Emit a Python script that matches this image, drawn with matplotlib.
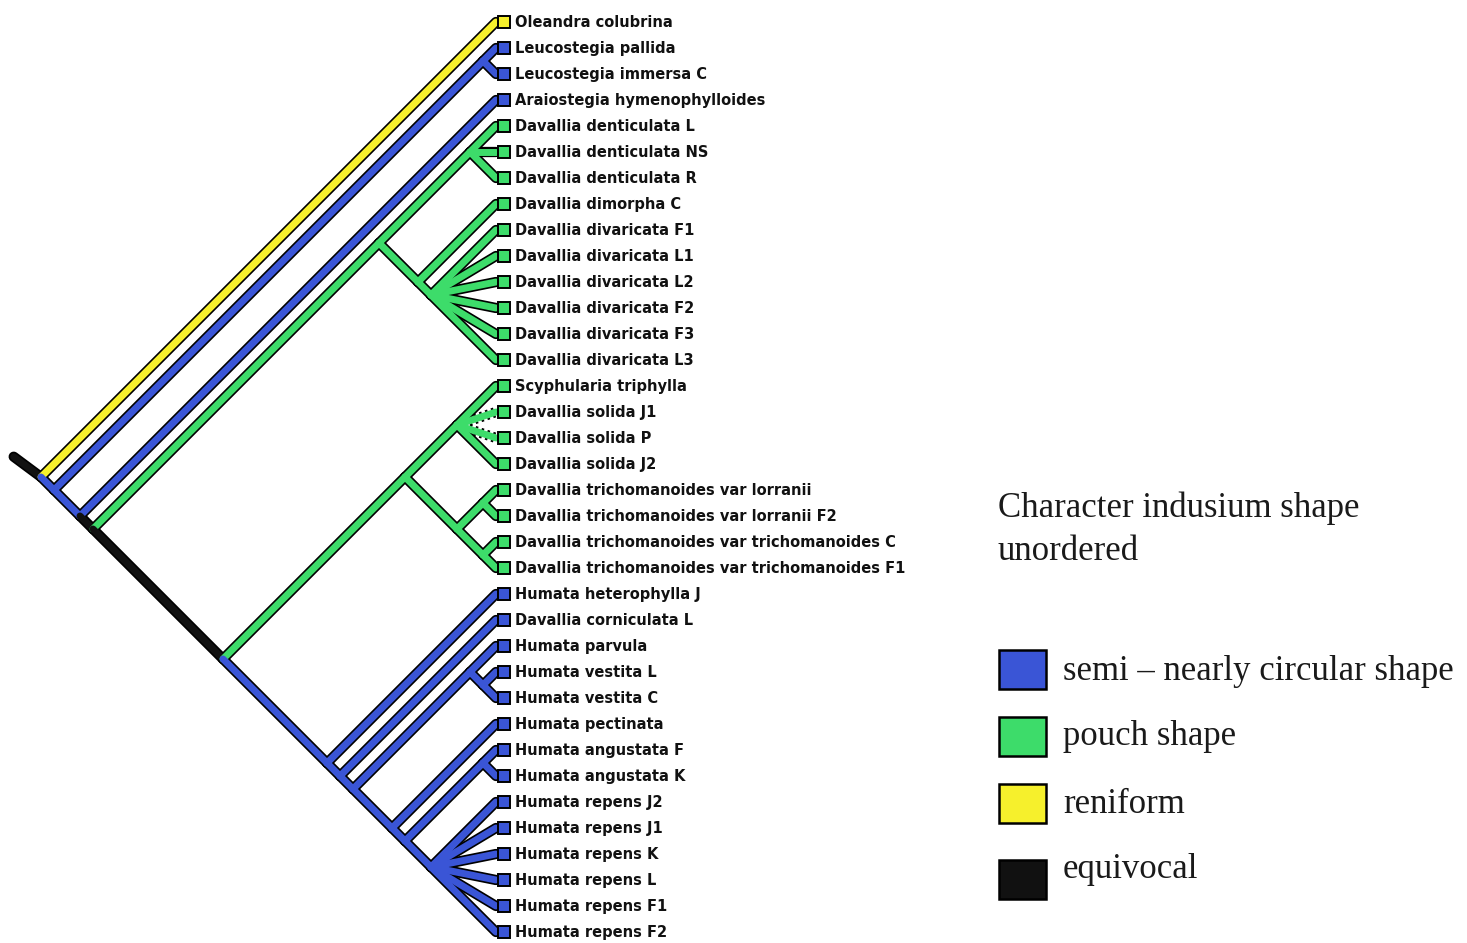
import matplotlib
matplotlib.use("Agg")
import matplotlib.pyplot as plt
from matplotlib.patches import Rectangle

# terminal taxa, top to bottom
taxa = [
    "Oleandra colubrina", "Leucostegia pallida", "Leucostegia immersa C",
    "Araiostegia hymenophylloides", "Davallia denticulata L",
    "Davallia denticulata NS", "Davallia denticulata R", "Davallia dimorpha C",
    "Davallia divaricata F1", "Davallia divaricata L1", "Davallia divaricata L2",
    "Davallia divaricata F2", "Davallia divaricata F3", "Davallia divaricata L3",
    "Scyphularia triphylla", "Davallia solida J1", "Davallia solida P",
    "Davallia solida J2", "Davallia trichomanoides var lorranii",
    "Davallia trichomanoides var lorranii F2",
    "Davallia trichomanoides var trichomanoides C",
    "Davallia trichomanoides var trichomanoides F1",
    "Humata heterophylla J", "Davallia corniculata L", "Humata parvula",
    "Humata vestita L", "Humata vestita C", "Humata pectinata",
    "Humata angustata F", "Humata angustata K", "Humata repens J2",
    "Humata repens J1", "Humata repens K", "Humata repens L",
    "Humata repens F1", "Humata repens F2",
]

# indusium shape of each terminal: 0 semi-circular, 1 pouch, 2 reniform
tip_state = [2, 0, 0, 0,
             1, 1, 1, 1, 1, 1, 1, 1, 1, 1,
             1, 1, 1, 1, 1, 1, 1, 1,
             0, 0, 0, 0, 0, 0, 0, 0, 0, 0, 0, 0, 0, 0]

# tree topology as nested tuples of tip indices
tree = (0, ((1, 2), (3, (((4, 5, 6), (7, (8, 9, 10, 11, 12, 13))),
        (((14, 15, 16, 17), ((18, 19), (20, 21))),
         (22, (23, ((24, (25, 26)), (27, ((28, 29), (30, 31, 32, 33, 34, 35)))))))))))

# terminal branches drawn with a dotted outline
dotted_tips = [15, 16]

state_names = ["semi \u2013 nearly circular shape", "pouch shape", "reniform", "equivocal"]
state_colors = ["#3a55d6", "#3ddc6a", "#f6f02c", "#111111"]
EQUIVOCAL = 3

W, H = 1467, 943
TIP_X, TOP_Y, STEP = 496, 22, 26   # pixel layout of the tip column


def px(x):
    return (x - TIP_X) / STEP


def py(y):
    return (y - TOP_Y) / STEP


# ---- Fitch parsimony reconstruction ----
prelim = {}
formed_by_union = {}


def downpass(node):
    if isinstance(node, int):
        prelim[node] = {tip_state[node]}
        return prelim[node]
    sets = [downpass(c) for c in node]
    common = set.intersection(*sets)
    if common:
        prelim[node] = common
        formed_by_union[node] = False
    else:
        prelim[node] = set.union(*sets)
        formed_by_union[node] = True
    return prelim[node]


final = {}


def uppass(node, anc):
    if isinstance(node, int):
        final[node] = {tip_state[node]}
        return
    s = prelim[node]
    if anc is None:
        final[node] = s
    elif anc <= s:
        final[node] = set(anc)
    elif formed_by_union[node]:
        final[node] = s | anc
    else:
        kids = set.union(*[prelim[c] for c in node])
        final[node] = s | (anc & kids)
    for c in node:
        uppass(c, final[node])


downpass(tree)
uppass(tree, None)


def branch_color(node):
    s = final[node]
    return state_colors[next(iter(s))] if len(s) == 1 else state_colors[EQUIVOCAL]


# ---- slanted cladogram layout ----
pos = {}


def layout(node):
    if isinstance(node, int):
        pos[node] = (0.0, float(node))
        return node, node
    spans = [layout(c) for c in node]
    t, b = spans[0][0], spans[-1][1]
    pos[node] = (-(b - t) / 2.0, (t + b) / 2.0)
    return t, b


layout(tree)

edges = []


def collect(node):
    if isinstance(node, int):
        return
    for c in node:
        edges.append((pos[node], pos[c], branch_color(c),
                      isinstance(c, int) and c in dotted_tips))
        collect(c)


collect(tree)
rx, ry = pos[tree]
edges.insert(0, ((rx - 1.05, ry - 0.78), (rx, ry), branch_color(tree), False))

fig = plt.figure(figsize=(W / 100, H / 100), dpi=100)
ax = fig.add_axes([0, 0, 1, 1])
ax.set_xlim(px(0), px(W))
ax.set_ylim(py(H), py(0))
ax.axis("off")

# black outlines first, then the coloured fill on top
for (x0, y0), (x1, y1), col, dotted in edges:
    ax.plot([x0, x1], [y0, y1], color="black", lw=7.4,
            ls=(0, (0.25, 0.35)) if dotted else "-", solid_capstyle="round",
            dash_capstyle="butt", zorder=1)
for (x0, y0), (x1, y1), col, dotted in edges:
    ax.plot([x0, x1], [y0, y1], color=col, lw=5.0, solid_capstyle="round", zorder=2)

for i, name in enumerate(taxa):
    ax.plot(px(504), i, marker="s", ms=8, mfc=state_colors[tip_state[i]],
            mec="black", mew=1.4, zorder=3)
    ax.text(px(515), i, name, fontsize=10.5, fontweight="bold",
            family="DejaVu Sans", va="center", ha="left", color="#111111")

# legend
serif = "Liberation Serif"
ax.text(px(998), py(517), "Character indusium shape", fontsize=25,
        family=serif, va="baseline", color="#1a1a1a")
ax.text(px(998), py(560), "unordered", fontsize=25, family=serif,
        va="baseline", color="#1a1a1a")
box_top = [650, 717, 784, 860]
text_base = [680, 745, 813, 878]
for k in range(4):
    ax.add_patch(Rectangle((px(999), py(box_top[k])), 47 / STEP, 39 / STEP,
                           facecolor=state_colors[k], edgecolor="black", lw=1.8))
    ax.text(px(1063), py(text_base[k]), state_names[k], fontsize=25,
            family=serif, va="baseline", color="#1a1a1a")

fig.savefig("out.png", dpi=100)
